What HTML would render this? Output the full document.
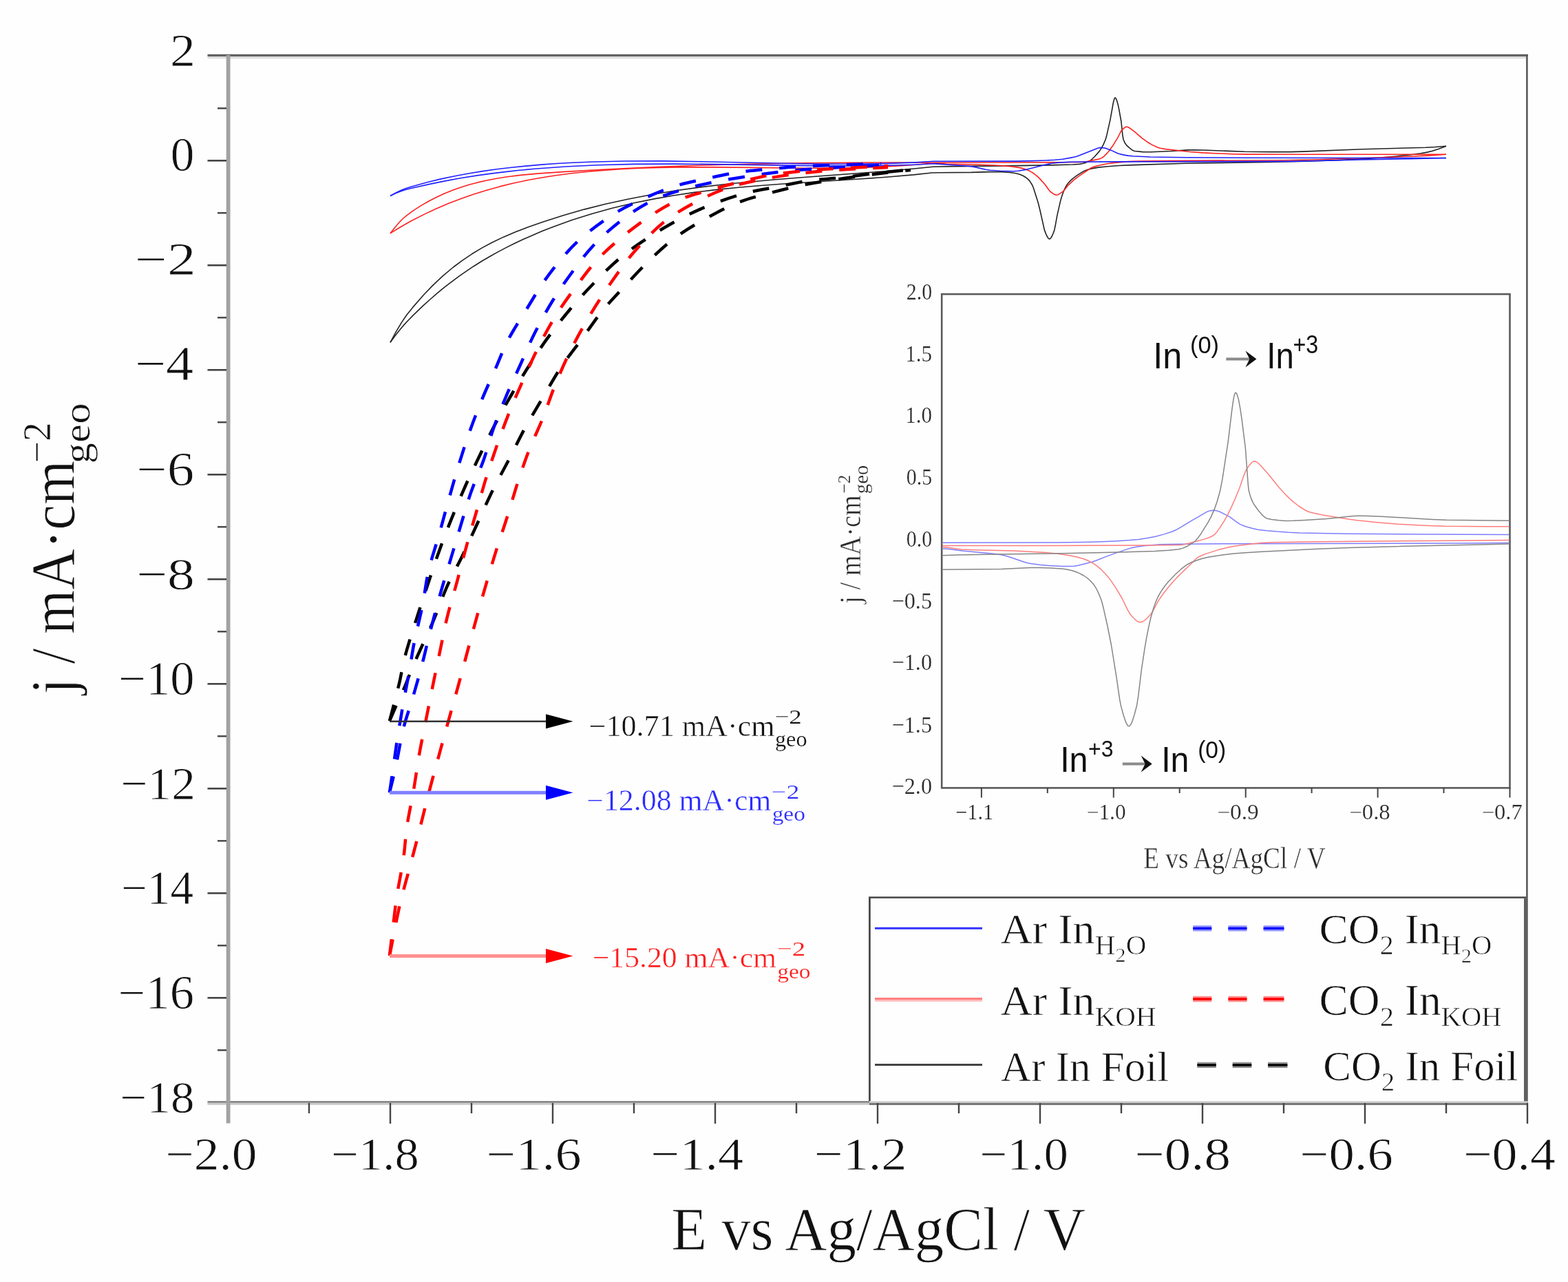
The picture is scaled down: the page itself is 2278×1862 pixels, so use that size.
<!DOCTYPE html><html><head><meta charset="utf-8"><title>CV plot</title><style>html,body{margin:0;padding:0;background:#fff;overflow:hidden}svg{display:block}</style></head><body>
<svg width="2278" height="1862" viewBox="0 0 2278 1862">
<rect width="2278" height="1862" fill="#fefefe"/>
<g fill="none" stroke-linecap="butt">
<line x1="301.5" y1="80.3" x2="2219.7" y2="80.3" stroke="#626262" stroke-width="3.2"/>
<line x1="301.5" y1="83.6" x2="2217" y2="83.6" stroke="#dedede" stroke-width="3.2"/>
<line x1="2218.4" y1="79" x2="2218.4" y2="1605" stroke="#585858" stroke-width="2.6"/>
<line x1="301.5" y1="1600.5" x2="1263" y2="1600.5" stroke="#777" stroke-width="2.6"/>
<line x1="301.5" y1="1603.25" x2="1263" y2="1603.25" stroke="#c8c8c8" stroke-width="2.9"/>
<line x1="1263" y1="1600.6" x2="2219.7" y2="1600.6" stroke="#cccccc" stroke-width="2.8"/>
<line x1="1263" y1="1603.45" x2="2219.7" y2="1603.45" stroke="#777" stroke-width="2.9"/>
<line x1="331.6" y1="80" x2="331.6" y2="1631.5" stroke="#a2a2a2" stroke-width="5.8"/>
<line x1="316" y1="1525.3" x2="329" y2="1525.3" stroke="#444" stroke-width="2.4"/>
<line x1="301.5" y1="1449.3" x2="329" y2="1449.3" stroke="#444" stroke-width="2.6"/>
<line x1="316" y1="1373.3" x2="329" y2="1373.3" stroke="#444" stroke-width="2.4"/>
<line x1="301.5" y1="1297.3" x2="329" y2="1297.3" stroke="#444" stroke-width="2.6"/>
<line x1="316" y1="1221.3" x2="329" y2="1221.3" stroke="#444" stroke-width="2.4"/>
<line x1="301.5" y1="1145.3" x2="329" y2="1145.3" stroke="#444" stroke-width="2.6"/>
<line x1="316" y1="1069.3" x2="329" y2="1069.3" stroke="#444" stroke-width="2.4"/>
<line x1="301.5" y1="993.3" x2="329" y2="993.3" stroke="#444" stroke-width="2.6"/>
<line x1="316" y1="917.3" x2="329" y2="917.3" stroke="#444" stroke-width="2.4"/>
<line x1="301.5" y1="841.3" x2="329" y2="841.3" stroke="#444" stroke-width="2.6"/>
<line x1="316" y1="765.3" x2="329" y2="765.3" stroke="#444" stroke-width="2.4"/>
<line x1="301.5" y1="689.3" x2="329" y2="689.3" stroke="#444" stroke-width="2.6"/>
<line x1="316" y1="613.3" x2="329" y2="613.3" stroke="#444" stroke-width="2.4"/>
<line x1="301.5" y1="537.3" x2="329" y2="537.3" stroke="#444" stroke-width="2.6"/>
<line x1="316" y1="461.3" x2="329" y2="461.3" stroke="#444" stroke-width="2.4"/>
<line x1="301.5" y1="385.3" x2="329" y2="385.3" stroke="#444" stroke-width="2.6"/>
<line x1="316" y1="309.3" x2="329" y2="309.3" stroke="#444" stroke-width="2.4"/>
<line x1="301.5" y1="233.3" x2="329" y2="233.3" stroke="#444" stroke-width="2.6"/>
<line x1="316" y1="157.3" x2="329" y2="157.3" stroke="#444" stroke-width="2.4"/>
<line x1="449.0" y1="1602" x2="449.0" y2="1617" stroke="#444" stroke-width="2.4"/>
<line x1="567.0" y1="1602" x2="567.0" y2="1632" stroke="#444" stroke-width="2.4"/>
<line x1="685.0" y1="1602" x2="685.0" y2="1617" stroke="#444" stroke-width="2.4"/>
<line x1="803.0" y1="1602" x2="803.0" y2="1632" stroke="#444" stroke-width="2.4"/>
<line x1="921.0" y1="1602" x2="921.0" y2="1617" stroke="#444" stroke-width="2.4"/>
<line x1="1039.0" y1="1602" x2="1039.0" y2="1632" stroke="#444" stroke-width="2.4"/>
<line x1="1157.0" y1="1602" x2="1157.0" y2="1617" stroke="#444" stroke-width="2.4"/>
<line x1="1275.0" y1="1602" x2="1275.0" y2="1632" stroke="#444" stroke-width="2.4"/>
<line x1="1393.0" y1="1602" x2="1393.0" y2="1617" stroke="#444" stroke-width="2.4"/>
<line x1="1511.0" y1="1602" x2="1511.0" y2="1632" stroke="#444" stroke-width="2.4"/>
<line x1="1629.0" y1="1602" x2="1629.0" y2="1617" stroke="#444" stroke-width="2.4"/>
<line x1="1747.0" y1="1602" x2="1747.0" y2="1632" stroke="#444" stroke-width="2.4"/>
<line x1="1865.0" y1="1602" x2="1865.0" y2="1617" stroke="#444" stroke-width="2.4"/>
<line x1="1983.0" y1="1602" x2="1983.0" y2="1632" stroke="#444" stroke-width="2.4"/>
<line x1="2101.0" y1="1602" x2="2101.0" y2="1617" stroke="#444" stroke-width="2.4"/>
<line x1="2219.0" y1="1602" x2="2219.0" y2="1632" stroke="#444" stroke-width="2.4"/>
</g>
<rect x="1368.2" y="427.2" width="825.3" height="717.2" fill="none" stroke="#5a5a5a" stroke-width="2.6"/>
<line x1="1425.9" y1="1144" x2="1425.9" y2="1158.5" stroke="#444" stroke-width="2"/>
<line x1="1521.8" y1="1144" x2="1521.8" y2="1152.0" stroke="#444" stroke-width="2"/>
<line x1="1617.8" y1="1144" x2="1617.8" y2="1158.5" stroke="#444" stroke-width="2"/>
<line x1="1713.7" y1="1144" x2="1713.7" y2="1152.0" stroke="#444" stroke-width="2"/>
<line x1="1809.7" y1="1144" x2="1809.7" y2="1158.5" stroke="#444" stroke-width="2"/>
<line x1="1905.6" y1="1144" x2="1905.6" y2="1152.0" stroke="#444" stroke-width="2"/>
<line x1="2001.6" y1="1144" x2="2001.6" y2="1158.5" stroke="#444" stroke-width="2"/>
<line x1="2097.5" y1="1144" x2="2097.5" y2="1152.0" stroke="#444" stroke-width="2"/>
<line x1="2193.5" y1="1144" x2="2193.5" y2="1158.5" stroke="#444" stroke-width="2"/>
<svg x="1369.5" y="428.5" width="822.7" height="714.6" viewBox="1369.5 428.5 822.7 714.6" overflow="hidden">
<polyline fill="none" stroke="#7d7dff" stroke-width="1.5" stroke-linejoin="round" points="1349.1,797.9 1363.3,797.0 1373.7,797.1 1380.6,797.8 1397.9,800.0 1443.1,804.3 1454.5,805.8 1461.1,807.3 1468.4,809.5 1487.7,816.2 1493.2,817.7 1498.4,818.8 1510.5,820.3 1523.3,821.4 1542.7,822.4 1555.1,822.6 1560.6,822.2 1566.5,821.3 1586.2,816.2 1592.8,814.0 1608.3,807.9 1622.8,802.6 1638.4,797.4 1644.9,795.5 1653.2,793.9 1661.9,792.7 1685.4,790.8 1717.9,790.2 1780.7,789.7 2123.2,789.0 2212.7,788.5"/>
<polyline fill="none" stroke="#7d7dff" stroke-width="1.5" stroke-linejoin="round" points="1349.1,789.7 1359.9,788.6 1367.8,788.3 1533.3,787.9 1572.7,787.6 1594.1,787.0 1624.5,785.7 1641.5,784.6 1654.3,783.4 1666.7,781.6 1678.8,779.2 1691.2,775.9 1702.6,772.2 1708.2,769.8 1714.0,766.6 1731.7,755.9 1741.0,750.7 1752.4,743.9 1755.2,742.6 1757.6,741.9 1759.7,741.5 1763.5,741.3 1765.9,741.5 1768.6,742.1 1771.4,743.0 1774.9,744.6 1786.3,750.7 1797.3,758.7 1801.1,761.1 1804.6,762.8 1809.8,764.7 1818.8,767.3 1827.4,769.2 1840.2,770.7 1855.7,772.1 1872.0,773.2 1888.2,773.9 1958.0,775.2 2073.1,776.1 2212.7,776.7"/>
<polyline fill="none" stroke="#ff7d7d" stroke-width="1.5" stroke-linejoin="round" points="1349.1,796.6 1360.5,794.8 1365.4,794.4 1369.5,794.4 1376.1,795.0 1390.6,797.3 1397.2,798.0 1417.2,798.7 1473.2,800.0 1519.2,802.6 1534.7,803.9 1550.6,806.2 1563.7,808.7 1574.4,811.8 1578.9,813.5 1583.4,815.7 1587.9,818.2 1592.8,821.3 1599.0,826.4 1605.9,833.5 1611.1,839.6 1614.2,843.6 1622.5,856.2 1630.1,869.0 1638.4,886.1 1642.2,892.6 1647.0,897.8 1650.8,901.3 1653.9,903.2 1656.7,903.8 1659.5,903.1 1662.6,901.3 1666.0,898.2 1671.5,892.4 1673.3,890.2 1675.0,887.4 1681.6,875.0 1684.0,870.9 1690.2,862.0 1697.1,853.2 1703.7,845.5 1710.2,838.4 1730.3,819.0 1737.9,811.3 1740.0,809.7 1743.4,807.8 1751.7,804.4 1770.0,798.6 1784.5,794.9 1794.9,793.0 1818.4,789.9 1833.6,788.5 1847.8,787.8 1919.3,786.7 2150.8,785.0 2212.7,784.2"/>
<polyline fill="none" stroke="#ff7d7d" stroke-width="1.5" stroke-linejoin="round" points="1349.1,792.6 1490.8,792.6 1671.2,792.0 1714.7,791.4 1720.3,790.7 1726.8,789.3 1749.6,783.1 1756.6,780.7 1760.4,779.0 1763.1,777.4 1765.5,775.2 1768.0,772.4 1772.1,766.6 1779.0,755.9 1783.2,748.3 1788.7,737.1 1793.9,725.5 1800.8,708.7 1807.7,688.8 1810.5,682.4 1814.3,676.8 1817.4,673.0 1819.8,670.9 1821.2,670.2 1822.2,670.0 1823.9,670.3 1825.7,671.1 1827.7,672.5 1830.2,674.8 1842.3,688.2 1858.1,708.0 1869.2,719.9 1876.8,727.2 1886.8,735.0 1894.8,740.2 1901.0,743.2 1908.6,745.3 1921.4,747.9 1953.9,753.3 1969.8,755.6 2000.5,758.8 2030.9,761.3 2068.9,763.2 2099.7,764.2 2157.4,764.7 2212.7,764.8"/>
<polyline fill="none" stroke="#858585" stroke-width="1.5" stroke-linejoin="round" points="1349.1,829.8 1359.5,828.0 1367.8,827.3 1454.9,826.4 1496.7,824.4 1510.2,824.5 1525.4,825.0 1542.3,826.0 1549.9,827.1 1557.5,828.7 1563.0,830.5 1568.6,832.9 1574.4,836.0 1578.9,839.0 1582.4,842.0 1585.8,845.4 1589.0,849.1 1591.4,852.7 1593.8,857.0 1596.6,862.9 1599.7,870.8 1601.1,875.2 1603.5,884.8 1609.0,909.5 1614.5,937.0 1622.1,984.1 1626.6,1015.4 1628.4,1024.9 1632.2,1038.8 1635.3,1048.1 1637.7,1052.9 1639.1,1054.4 1640.1,1054.7 1641.1,1054.3 1642.5,1052.8 1644.9,1047.9 1648.0,1038.3 1651.5,1025.0 1653.6,1011.8 1658.4,972.4 1662.6,944.7 1665.3,928.3 1668.8,910.6 1671.9,897.0 1675.3,885.0 1678.8,874.9 1681.9,867.7 1686.4,859.7 1691.6,852.0 1697.1,845.2 1707.1,834.8 1715.8,826.7 1723.0,821.1 1726.5,819.0 1729.6,817.3 1737.5,814.2 1745.8,811.5 1754.1,809.5 1764.5,807.7 1778.0,805.8 1792.8,804.1 1809.8,802.7 1829.1,801.4 1909.6,797.4 1959.4,795.4 2017.8,793.9 2151.2,791.1 2212.7,789.3"/>
<polyline fill="none" stroke="#858585" stroke-width="1.5" stroke-linejoin="round" points="1349.1,809.2 1358.1,807.7 1365.0,807.0 1391.6,806.1 1433.1,805.2 1544.4,803.8 1627.3,802.1 1678.1,800.4 1697.8,799.3 1712.3,797.8 1715.4,797.1 1718.5,796.1 1725.1,793.2 1731.3,789.5 1736.2,786.0 1740.3,781.4 1744.8,775.2 1755.2,758.4 1759.3,750.9 1764.2,739.9 1768.3,728.2 1772.8,712.0 1775.9,695.9 1784.2,641.6 1789.4,598.2 1791.5,583.0 1792.5,577.1 1793.5,572.9 1794.6,570.6 1795.3,570.3 1796.3,571.1 1797.3,573.1 1799.4,580.4 1801.8,593.3 1804.2,609.7 1809.4,651.0 1813.2,703.0 1813.9,709.8 1814.6,713.7 1816.3,719.9 1818.1,724.9 1820.1,729.6 1822.6,733.8 1828.4,741.7 1832.9,747.1 1836.7,750.7 1839.8,752.7 1841.6,753.3 1847.4,754.4 1858.1,755.8 1867.1,756.4 1878.5,756.3 1895.8,755.5 1927.3,753.5 1966.0,749.6 1973.6,749.3 1981.2,749.2 2003.3,749.9 2081.0,754.5 2101.1,755.3 2170.9,756.1 2196.4,756.2 2212.7,755.9"/>
</svg>
<line x1="1781.3" y1="521.4" x2="1817.4" y2="521.4" stroke="#8a8a8a" stroke-width="4"/>
<path d="M1825.4,521.4 L1809.4,509.4 L1815.4,521.4 L1809.4,533.4 Z" fill="#111"/>
<line x1="1630.8" y1="1109.4" x2="1665.7" y2="1109.4" stroke="#8a8a8a" stroke-width="4"/>
<path d="M1673.7,1109.4 L1657.7,1097.4 L1663.7,1109.4 L1657.7,1121.4 Z" fill="#111"/>
<g fill="none" stroke-linejoin="round" stroke-width="1.6">
<polyline stroke="#222" points="567.0,497.4 573.6,488.3 580.3,479.7 586.4,472.4 592.6,465.7 600.8,457.4 615.1,443.7 625.3,434.5 635.5,425.6 645.8,417.2 656.0,409.3 666.7,401.3 677.5,393.8 688.2,386.7 700.0,379.3 711.2,372.7 723.0,366.1 735.3,359.6 747.6,353.5 760.3,347.5 774.2,341.4 788.0,335.6 802.3,330.0 830.4,319.8 859.1,310.7 888.7,302.5 919.9,295.0 951.7,288.6 979.8,283.7 1008.9,279.4 1039.6,275.6 1072.9,272.2 1102.0,269.7 1135.3,267.2 1244.2,260.3 1284.1,257.5 1327.1,253.9 1353.7,251.0 1365.5,250.7 1411.0,250.4 1437.6,249.6 1455.0,249.8 1466.7,250.4 1472.9,251.2 1477.0,252.0 1482.1,253.6 1486.7,255.5 1490.3,257.7 1493.8,260.6 1495.9,262.9 1498.4,266.7 1500.0,269.5 1501.5,273.2 1508.2,294.2 1511.2,306.5 1517.4,334.1 1519.4,339.4 1521.5,343.8 1523.0,346.1 1524.5,347.1 1525.0,347.0 1526.1,346.4 1527.6,344.3 1529.7,340.0 1531.7,334.6 1533.2,327.6 1535.8,313.1 1540.4,292.9 1542.4,285.8 1544.5,279.7 1547.0,273.8 1549.1,269.9 1551.6,266.3 1555.7,261.9 1559.8,258.3 1566.0,253.9 1571.6,250.3 1576.2,247.9 1579.8,246.6 1585.9,244.9 1595.6,243.1 1609.4,241.7 1625.8,240.5 1647.3,239.6 1722.0,237.3 1843.2,235.4 1888.2,234.4 1944.0,232.6 1986.9,230.4 2006.4,229.0 2027.9,227.0 2049.8,224.7 2064.2,222.7 2073.4,221.1 2081.1,219.2 2090.3,216.2 2101.0,212.2"/>
<polyline stroke="#222" points="567.0,497.4 575.2,482.1 583.4,468.4 591.0,457.3 599.7,446.4 615.1,428.8 628.4,414.9 643.2,400.9 658.6,388.0 671.9,378.1 685.7,368.8 700.5,359.9 715.3,352.0 731.2,344.4 748.6,337.0 767.5,329.7 789.0,322.2 818.7,312.7 848.8,304.1 880.0,296.2 912.3,289.2 946.0,282.7 980.8,277.0 1017.6,271.9 1056.5,267.3 1087.7,264.2 1121.5,261.2 1161.4,258.0 1286.2,248.7 1328.1,245.0 1355.2,242.2 1385.9,241.6 1459.6,240.9 1526.6,239.9 1558.3,239.0 1568.0,238.4 1572.1,237.8 1576.7,236.4 1581.8,234.3 1584.4,232.9 1586.9,230.8 1590.5,227.2 1597.2,219.6 1600.2,215.1 1602.8,210.4 1605.9,203.2 1607.9,196.4 1613.0,173.6 1617.6,148.0 1619.2,142.8 1619.7,142.1 1620.2,142.0 1621.2,142.9 1622.7,146.5 1624.3,152.2 1625.8,159.5 1628.9,176.5 1630.9,196.1 1632.0,202.5 1634.5,208.1 1637.1,211.4 1641.2,215.1 1644.2,217.5 1646.8,218.9 1648.8,219.5 1660.1,220.6 1672.4,220.7 1701.5,219.5 1725.0,217.9 1734.3,217.7 1748.1,218.0 1807.9,220.3 1846.8,220.6 1873.9,220.6 1892.8,220.1 1978.2,216.8 2071.3,214.2 2085.1,213.5 2101.0,212.2"/>
<polyline stroke="#ff2020" points="567.0,338.9 581.8,329.7 596.7,321.3 615.6,311.6 633.5,303.2 651.4,295.6 669.3,288.7 687.7,282.2 707.2,276.2 726.1,270.9 746.0,266.0 766.0,261.8 786.9,258.0 807.9,254.7 830.4,251.8 854.5,249.2 879.5,247.1 904.6,245.5 930.2,244.3 958.8,243.4 988.5,242.9 1042.2,242.9 1171.6,244.3 1205.4,244.2 1240.1,243.7 1271.9,242.8 1302.0,241.3 1331.2,239.3 1351.1,237.2 1356.8,236.8 1361.9,237.1 1375.2,238.4 1422.7,239.2 1453.9,240.5 1468.3,241.7 1480.5,243.4 1485.1,244.4 1488.7,245.5 1496.4,248.6 1499.5,250.4 1503.1,253.0 1507.1,256.2 1510.2,259.1 1518.4,268.2 1523.5,275.5 1526.1,278.5 1531.2,282.1 1533.2,282.9 1534.8,283.2 1536.3,283.0 1538.3,282.2 1544.0,278.4 1546.0,276.4 1551.6,269.3 1559.8,261.7 1568.0,255.4 1584.9,244.0 1589.5,242.1 1596.7,240.3 1608.9,237.8 1619.2,236.4 1639.1,234.6 1655.0,234.0 1700.0,233.6 1865.2,232.7 1915.3,231.7 2045.8,227.3 2072.9,226.1 2101.0,224.3"/>
<polyline stroke="#ff2020" points="567.0,338.9 573.6,330.4 579.8,323.2 585.4,317.5 591.6,312.3 599.7,306.3 612.5,298.1 622.8,292.2 633.5,286.7 644.7,281.5 657.0,276.5 668.3,272.5 681.6,268.3 694.4,264.9 707.2,262.0 721.5,259.2 735.3,257.0 756.3,254.4 780.8,252.1 817.1,249.6 866.2,246.7 915.3,244.2 964.9,242.1 1015.6,240.2 1067.3,238.7 1147.0,237.1 1229.4,236.2 1287.7,236.0 1357.3,236.2 1483.6,236.0 1545.5,235.8 1572.6,235.4 1578.2,234.7 1595.1,231.4 1599.7,229.9 1602.8,228.0 1605.4,225.6 1610.0,220.8 1616.1,212.6 1623.8,200.1 1627.9,192.0 1629.4,189.5 1633.5,185.6 1635.0,184.6 1636.6,184.2 1637.6,184.3 1639.1,184.8 1641.7,186.3 1648.8,191.7 1658.5,200.1 1667.8,206.8 1672.9,209.9 1681.6,214.0 1685.7,215.3 1693.3,216.6 1728.6,220.5 1747.6,221.9 1765.5,222.8 1790.5,223.7 1810.5,224.1 1860.6,224.3 1983.4,224.2 2101.0,224.3"/>
<polyline stroke="#2020ff" points="567.0,284.5 574.7,280.8 581.8,277.9 588.5,275.7 596.2,273.7 623.3,267.6 645.3,263.1 668.8,258.8 693.3,254.9 713.3,252.1 733.8,249.6 754.7,247.3 776.2,245.3 821.2,242.0 868.3,239.8 922.5,238.4 980.3,238.1 1038.1,238.6 1172.6,240.6 1240.7,240.9 1271.9,240.6 1301.5,240.0 1328.1,239.2 1351.6,238.0 1358.3,237.9 1399.7,240.7 1411.0,241.7 1417.6,242.9 1432.0,246.3 1438.6,247.3 1453.4,248.3 1472.4,248.8 1479.5,248.2 1491.8,246.1 1513.8,240.4 1527.6,237.3 1538.3,236.1 1553.7,235.3 1614.0,234.9 1875.9,234.4 1906.1,233.8 1976.7,231.9 2047.8,230.7 2101.0,229.5"/>
<polyline stroke="#2020ff" points="567.0,284.5 575.2,279.9 582.9,276.3 590.0,273.5 598.2,270.9 620.7,264.8 639.6,260.1 660.6,255.7 682.1,251.7 701.5,248.6 721.5,245.8 743.0,243.3 764.4,241.1 786.4,239.1 808.9,237.5 832.0,236.2 856.5,235.2 906.6,234.0 962.4,233.9 1019.7,234.7 1162.9,237.8 1204.3,238.3 1236.0,238.3 1267.8,237.9 1300.0,237.1 1330.2,235.9 1356.3,234.3 1475.9,234.1 1500.5,233.6 1519.4,233.0 1532.7,232.3 1543.5,231.2 1554.2,229.4 1562.4,227.7 1567.5,226.1 1594.1,215.4 1597.2,214.6 1600.7,214.4 1603.8,214.7 1606.9,215.6 1614.6,218.4 1624.3,223.0 1633.0,225.1 1639.1,226.1 1645.8,226.7 1671.3,228.0 1723.5,228.7 1813.0,229.2 2101.0,229.5"/>
</g>
<g fill="none" stroke-width="4.5" stroke-dasharray="24 25" stroke-linecap="butt">
<path stroke="#000" d="M566.0,1047.0 C567.2,1042.5 570.6,1029.5 573.0,1020.0 C575.4,1010.5 578.0,1001.2 580.6,990.0 C583.2,978.8 584.7,967.2 588.5,953.0 C592.3,938.8 598.0,921.0 603.2,904.6 C608.4,888.2 614.1,870.9 619.6,854.5 C625.1,838.1 630.2,822.1 636.0,806.0 C641.8,789.9 647.5,774.5 654.2,757.8 C660.9,741.1 669.0,721.7 676.0,706.0 C683.0,690.3 688.9,678.2 696.0,663.5 C703.1,648.8 710.4,633.1 718.5,617.7 C726.6,602.3 736.0,585.4 744.4,571.0 C752.8,556.6 760.2,544.4 768.6,531.3 C777.0,518.2 784.6,506.1 794.5,492.4 C804.4,478.7 816.7,462.9 828.2,449.2 C839.7,435.5 851.6,422.8 863.6,410.4 C875.6,398.0 887.5,385.9 900.5,375.0 C913.5,364.1 927.5,354.6 941.7,345.3 C956.0,336.0 970.9,326.9 986.0,319.0 C1001.1,311.1 1016.3,303.9 1032.3,297.6 C1048.3,291.3 1066.3,285.3 1081.8,281.0 C1097.2,276.7 1109.5,275.1 1125.0,272.0 C1140.5,268.9 1158.2,264.9 1175.0,262.5 C1191.8,260.1 1208.8,259.4 1226.0,257.5 C1243.2,255.6 1261.8,252.8 1278.0,251.0 C1294.2,249.2 1315.5,247.2 1323.0,246.5"/>
<path stroke="#000" d="M566.0,1047.0 C567.7,1043.2 572.5,1031.8 576.0,1024.0 C579.5,1016.2 583.5,1008.2 587.0,1000.0 C590.5,991.8 593.6,983.2 597.0,975.0 C600.4,966.8 601.9,963.0 607.3,951.0 C612.6,939.0 622.1,919.3 629.1,902.9 C636.1,886.5 642.0,868.6 649.0,852.8 C656.0,837.0 663.9,823.4 671.4,807.9 C678.9,792.4 686.5,775.4 693.9,759.5 C701.2,743.6 708.0,728.1 715.5,712.8 C723.0,697.5 731.4,682.9 739.2,667.8 C747.1,652.7 754.2,637.2 762.6,622.0 C771.0,606.8 780.5,591.1 789.3,576.3 C798.1,561.5 806.1,546.8 815.3,533.0 C824.5,519.2 834.7,506.8 844.6,493.3 C854.5,479.8 864.5,464.6 874.9,451.8 C885.3,439.0 895.1,428.9 906.8,416.4 C918.5,403.9 932.3,388.7 945.0,376.6 C957.7,364.5 969.5,353.6 983.0,343.7 C996.5,333.8 1010.9,325.5 1025.7,317.3 C1040.5,309.1 1056.3,300.5 1072.0,294.3 C1087.7,288.1 1103.7,284.4 1120.0,280.0 C1136.3,275.6 1152.3,271.5 1170.0,268.0 C1187.7,264.5 1208.0,261.7 1226.0,259.0 C1244.0,256.3 1261.8,254.0 1278.0,252.0 C1294.2,250.0 1315.5,247.8 1323.0,247.0"/>
<path stroke="#0000ff" d="M566.0,1151.0 C567.0,1144.2 570.2,1122.7 572.0,1110.0 C573.8,1097.3 574.9,1088.6 577.0,1075.0 C579.1,1061.4 581.8,1045.2 584.7,1028.5 C587.6,1011.8 591.7,991.3 594.6,975.0 C597.5,958.7 599.1,946.3 602.3,930.5 C605.5,914.7 610.2,897.4 613.6,880.4 C617.0,863.4 618.7,845.9 622.7,828.6 C626.7,811.3 633.0,793.8 637.8,776.8 C642.6,759.8 646.9,743.3 651.6,726.7 C656.3,710.1 660.7,693.9 665.8,677.3 C670.9,660.7 676.4,643.5 682.2,627.2 C688.0,610.9 694.2,594.8 700.4,579.7 C706.6,564.6 713.1,550.9 719.4,536.5 C725.7,522.1 730.6,508.1 738.4,493.3 C746.2,478.5 757.2,461.8 766.0,447.5 C774.8,433.2 781.8,420.9 791.0,407.8 C800.2,394.8 811.2,380.6 821.4,369.2 C831.5,357.8 840.0,349.5 851.9,339.6 C863.8,329.7 879.7,318.3 893.0,310.0 C906.3,301.7 917.6,296.5 931.8,290.0 C946.0,283.5 962.5,276.2 978.0,271.2 C993.5,266.1 1009.7,263.1 1025.0,259.7 C1040.3,256.3 1056.4,252.8 1070.0,250.6 C1083.6,248.4 1091.5,247.9 1106.5,246.5 C1121.5,245.1 1141.1,243.2 1160.0,242.0 C1178.9,240.8 1200.0,240.2 1220.0,239.5 C1240.0,238.8 1270.0,238.2 1280.0,238.0"/>
<path stroke="#0000ff" d="M566.0,1151.0 C567.5,1144.6 571.9,1127.9 575.2,1112.4 C578.5,1097.0 581.9,1074.8 586.0,1058.3 C590.1,1041.8 595.0,1029.4 599.6,1013.6 C604.2,997.8 609.5,978.8 613.6,963.4 C617.7,948.0 619.7,937.7 624.0,921.0 C628.3,904.3 634.5,881.1 639.5,863.2 C644.5,845.4 649.3,830.3 654.2,813.9 C659.1,797.5 663.9,781.2 668.9,764.7 C673.9,748.2 678.7,730.9 684.4,714.6 C690.1,698.3 697.6,682.4 703.0,667.0 C708.4,651.6 711.7,637.1 717.0,622.0 C722.3,606.9 728.6,591.5 735.0,576.3 C741.4,561.0 748.6,546.0 755.6,530.5 C762.6,515.0 769.3,498.7 777.2,483.0 C785.1,467.3 794.4,450.6 803.2,436.3 C812.0,422.0 820.1,410.4 830.0,397.0 C839.9,383.6 850.6,368.7 862.6,356.0 C874.6,343.3 888.3,331.2 902.0,320.6 C915.7,310.0 930.3,300.0 945.0,292.6 C959.7,285.2 974.2,280.8 990.0,276.0 C1005.8,271.2 1021.7,267.7 1040.0,264.0 C1058.3,260.3 1080.0,256.8 1100.0,254.0 C1120.0,251.2 1140.0,248.8 1160.0,247.0 C1180.0,245.2 1200.0,244.2 1220.0,243.0 C1240.0,241.8 1270.0,240.5 1280.0,240.0"/>
<path stroke="#ff0000" d="M566.0,1388.0 C566.6,1382.7 568.0,1370.3 569.8,1356.0 C571.5,1341.7 573.8,1320.0 576.5,1302.0 C579.2,1284.0 583.5,1265.0 586.0,1247.8 C588.5,1230.6 588.9,1215.7 591.4,1199.0 C593.9,1182.3 598.0,1164.7 600.9,1147.6 C603.8,1130.5 606.0,1113.3 609.0,1096.2 C612.0,1079.1 615.6,1062.2 619.0,1045.0 C622.4,1027.8 625.9,1010.1 629.3,993.3 C632.7,976.5 636.1,960.6 639.5,944.4 C642.9,928.2 645.8,912.4 649.8,896.0 C653.8,879.6 658.9,863.5 663.7,845.9 C668.5,828.3 673.6,807.8 678.4,790.6 C683.1,773.5 687.5,759.4 692.2,743.0 C697.0,726.6 701.6,708.9 706.9,692.1 C712.1,675.3 718.0,658.0 723.7,642.0 C729.4,626.0 734.8,611.4 741.0,596.1 C747.2,580.8 753.8,566.0 760.8,550.3 C767.8,534.6 775.4,517.5 783.3,502.0 C791.2,486.4 799.2,471.7 808.4,457.0 C817.6,442.3 828.7,427.1 838.6,413.8 C848.5,400.6 857.3,388.6 867.6,377.5 C877.9,366.4 888.1,357.3 900.5,347.0 C912.9,336.7 927.7,325.0 941.7,315.7 C955.7,306.4 969.0,297.8 984.5,291.0 C1000.0,284.2 1019.1,279.7 1035.0,275.0 C1050.9,270.3 1065.7,266.5 1080.0,263.0 C1094.3,259.5 1106.0,256.5 1121.0,254.0 C1136.0,251.5 1153.5,249.6 1170.0,248.0 C1186.5,246.4 1200.0,245.7 1220.0,244.5 C1240.0,243.3 1278.3,241.6 1290.0,241.0"/>
<path stroke="#ff0000" d="M566.0,1388.0 C568.4,1375.9 575.9,1336.2 580.6,1315.5 C585.3,1294.8 589.8,1280.2 594.1,1264.0 C598.4,1247.8 601.5,1236.5 606.3,1218.0 C611.0,1199.5 617.0,1174.7 622.6,1153.0 C628.2,1131.3 635.0,1107.2 640.2,1088.0 C645.4,1068.8 649.5,1054.2 654.0,1038.0 C658.5,1021.8 662.7,1007.1 667.2,990.6 C671.7,974.1 676.7,955.1 681.0,939.2 C685.3,923.3 688.8,910.1 693.0,895.1 C697.2,880.1 701.4,865.1 706.0,849.3 C710.6,833.5 715.5,816.6 720.7,800.1 C725.9,783.6 731.8,766.9 737.1,750.0 C742.4,733.1 747.5,715.0 752.7,699.0 C758.0,683.0 762.5,669.6 768.6,654.0 C774.7,638.4 783.0,621.4 789.3,605.6 C795.6,589.8 800.0,575.1 806.6,559.0 C813.2,542.9 820.5,525.9 829.0,508.9 C837.5,491.9 847.5,473.9 857.6,457.0 C867.7,440.1 878.9,423.1 889.6,407.8 C900.3,392.5 909.5,379.2 922.0,365.0 C934.5,350.8 949.5,334.5 964.8,322.3 C980.1,310.1 998.1,300.2 1014.0,291.8 C1029.9,283.4 1044.0,277.3 1060.0,272.0 C1076.0,266.7 1091.7,263.5 1110.0,260.0 C1128.3,256.5 1150.0,253.3 1170.0,251.0 C1190.0,248.7 1210.0,247.3 1230.0,246.0 C1250.0,244.7 1280.0,243.5 1290.0,243.0"/>
</g>
<line x1="566" y1="1047.7" x2="795" y2="1047.7" stroke="#333" stroke-width="2.4"/>
<path d="M793,1037.2 L832.5,1047.7 L793,1058.2 Z" fill="#000"/>
<line x1="566" y1="1151.2" x2="795" y2="1151.2" stroke="#8080ff" stroke-width="5.0"/>
<path d="M793,1140.7 L832.5,1151.2 L793,1161.7 Z" fill="#0000ff"/>
<line x1="566" y1="1388.5" x2="795" y2="1388.5" stroke="#ff9090" stroke-width="5.0"/>
<path d="M793,1378.0 L832.5,1388.5 L793,1399.0 Z" fill="#ff0000"/>
<rect x="1263.4" y="1303.5" width="952" height="295.7" fill="#fefefe"/>
<path d="M1263.4,1599.2 V1303.5 H2217" fill="none" stroke="#444" stroke-width="2.7"/>
<line x1="2215.5" y1="1304.8" x2="2215.5" y2="1599.2" stroke="#5e5e5e" stroke-width="3"/>
<line x1="1271" y1="1348.3" x2="1427" y2="1348.3" stroke="#3333ff" stroke-width="3"/>
<line x1="1271" y1="1450.6" x2="1427" y2="1450.6" stroke="#ff8080" stroke-width="3"/><line x1="1271" y1="1453.4" x2="1427" y2="1453.4" stroke="#ffbcbc" stroke-width="2.6"/>
<line x1="1271" y1="1546.6" x2="1427" y2="1546.6" stroke="#444" stroke-width="3"/>
<path d="M1733.2,1348.4 H1760.3 M1784.4,1348.4 H1811.5 M1835.6,1348.4 H1865.4" stroke="#9090ff" stroke-width="8.4" fill="none"/>
<path d="M1733.2,1348.4 H1760.3 M1784.4,1348.4 H1811.5 M1835.6,1348.4 H1865.4" stroke="#0000ff" stroke-width="3.4" fill="none"/>
<path d="M1733.2,1451.0 H1760.3 M1784.4,1451.0 H1811.5 M1835.6,1451.0 H1865.4" stroke="#ff9090" stroke-width="8.4" fill="none"/>
<path d="M1733.2,1451.0 H1760.3 M1784.4,1451.0 H1811.5 M1835.6,1451.0 H1865.4" stroke="#ff0000" stroke-width="3.4" fill="none"/>
<path d="M1739.3,1546.9 H1766.8 M1790.7,1546.9 H1818.3 M1842.1,1546.9 H1870.4" stroke="#909090" stroke-width="8.4" fill="none"/>
<path d="M1739.3,1546.9 H1766.8 M1790.7,1546.9 H1818.3 M1842.1,1546.9 H1870.4" stroke="#000000" stroke-width="3.4" fill="none"/>
<g transform="matrix(0.73902,0.00000,0.00000,0.67015,247.04,95.83)" font-family="'Liberation Serif', 'DejaVu Serif', serif" fill="#111" stroke="#fefefe" stroke-width="1.15"><text x="0" y="0" font-size="100">2</text></g>
<g transform="matrix(0.69286,0.00000,0.00000,0.69853,247.63,248.20)" font-family="'Liberation Serif', 'DejaVu Serif', serif" fill="#111" stroke="#fefefe" stroke-width="1.15"><text x="0" y="0" font-size="100">0</text></g>
<g transform="matrix(0.83437,0.00000,0.00000,0.67015,195.93,399.43)" font-family="'Liberation Serif', 'DejaVu Serif', serif" fill="#111" stroke="#fefefe" stroke-width="1.15"><text x="0" y="0" font-size="100">−2</text></g>
<g transform="matrix(0.80400,0.00000,0.00000,0.71212,195.78,552.09)" font-family="'Liberation Serif', 'DejaVu Serif', serif" fill="#111" stroke="#fefefe" stroke-width="1.15"><text x="0" y="0" font-size="100">−4</text></g>
<g transform="matrix(0.78788,0.00000,0.00000,0.70000,198.26,704.90)" font-family="'Liberation Serif', 'DejaVu Serif', serif" fill="#111" stroke="#fefefe" stroke-width="1.15"><text x="0" y="0" font-size="100">−6</text></g>
<g transform="matrix(0.79592,0.00000,0.00000,0.66176,198.22,855.68)" font-family="'Liberation Serif', 'DejaVu Serif', serif" fill="#111" stroke="#fefefe" stroke-width="1.15"><text x="0" y="0" font-size="100">−8</text></g>
<g transform="matrix(0.70608,0.00000,0.00000,0.69853,172.07,1008.60)" font-family="'Liberation Serif', 'DejaVu Serif', serif" fill="#111" stroke="#fefefe" stroke-width="1.15"><text x="0" y="0" font-size="100">−10</text></g>
<g transform="matrix(0.69247,0.00000,0.00000,0.68358,175.54,1160.52)" font-family="'Liberation Serif', 'DejaVu Serif', serif" fill="#111" stroke="#fefefe" stroke-width="1.15"><text x="0" y="0" font-size="100">−12</text></g>
<g transform="matrix(0.67267,0.00000,0.00000,0.70000,175.94,1312.50)" font-family="'Liberation Serif', 'DejaVu Serif', serif" fill="#111" stroke="#fefefe" stroke-width="1.15"><text x="0" y="0" font-size="100">−14</text></g>
<g transform="matrix(0.70470,0.00000,0.00000,0.68971,171.68,1465.22)" font-family="'Liberation Serif', 'DejaVu Serif', serif" fill="#111" stroke="#fefefe" stroke-width="1.15"><text x="0" y="0" font-size="100">−16</text></g>
<g transform="matrix(0.69054,0.00000,0.00000,0.65441,174.55,1616.19)" font-family="'Liberation Serif', 'DejaVu Serif', serif" fill="#111" stroke="#fefefe" stroke-width="1.15"><text x="0" y="0" font-size="100">−18</text></g>
<g transform="matrix(0.73410,0.00000,0.00000,0.67647,240.33,1698.65)" font-family="'Liberation Serif', 'DejaVu Serif', serif" fill="#111" stroke="#fefefe" stroke-width="1.15"><text x="0" y="0" font-size="100">−2.0</text></g>
<g transform="matrix(0.70520,0.00000,0.00000,0.67647,480.97,1698.65)" font-family="'Liberation Serif', 'DejaVu Serif', serif" fill="#111" stroke="#fefefe" stroke-width="1.15"><text x="0" y="0" font-size="100">−1.8</text></g>
<g transform="matrix(0.76207,0.00000,0.00000,0.67647,706.29,1698.65)" font-family="'Liberation Serif', 'DejaVu Serif', serif" fill="#111" stroke="#fefefe" stroke-width="1.15"><text x="0" y="0" font-size="100">−1.6</text></g>
<g transform="matrix(0.74229,0.00000,0.00000,0.68657,945.59,1699.31)" font-family="'Liberation Serif', 'DejaVu Serif', serif" fill="#111" stroke="#fefefe" stroke-width="1.15"><text x="0" y="0" font-size="100">−1.4</text></g>
<g transform="matrix(0.74211,0.00000,0.00000,0.68657,1182.89,1699.31)" font-family="'Liberation Serif', 'DejaVu Serif', serif" fill="#111" stroke="#fefefe" stroke-width="1.15"><text x="0" y="0" font-size="100">−1.2</text></g>
<g transform="matrix(0.70925,0.00000,0.00000,0.67647,1423.35,1698.65)" font-family="'Liberation Serif', 'DejaVu Serif', serif" fill="#111" stroke="#fefefe" stroke-width="1.15"><text x="0" y="0" font-size="100">−1.0</text></g>
<g transform="matrix(0.76936,0.00000,0.00000,0.67647,1648.35,1698.65)" font-family="'Liberation Serif', 'DejaVu Serif', serif" fill="#111" stroke="#fefefe" stroke-width="1.15"><text x="0" y="0" font-size="100">−0.8</text></g>
<g transform="matrix(0.74770,0.00000,0.00000,0.67647,1888.26,1698.65)" font-family="'Liberation Serif', 'DejaVu Serif', serif" fill="#111" stroke="#fefefe" stroke-width="1.15"><text x="0" y="0" font-size="100">−0.6</text></g>
<g transform="matrix(0.73943,0.00000,0.00000,0.67647,2125.90,1698.65)" font-family="'Liberation Serif', 'DejaVu Serif', serif" fill="#111" stroke="#fefefe" stroke-width="1.15"><text x="0" y="0" font-size="100">−0.4</text></g>
<g transform="matrix(0.84865,0.00000,0.00000,0.89444,975.15,1814.72)" font-family="'Liberation Serif', 'DejaVu Serif', serif" fill="#111" stroke="#fefefe" stroke-width="1.03"><text x="0" y="0" font-size="100">E vs Ag/AgCl / V</text></g>
<g transform="matrix(0.00000,-0.82615,0.91034,0.00000,107.58,1008.22)" font-family="'Liberation Serif', 'DejaVu Serif', serif" fill="#111" stroke="#fefefe" stroke-width="1.04"><text x="0" y="0" font-size="100">j / mA·cm</text></g>
<g transform="matrix(0.00000,-0.55521,0.58060,0.00000,72.82,672.28)" font-family="'Liberation Serif', 'DejaVu Serif', serif" fill="#111" stroke="#fefefe" stroke-width="1.15"><text x="0" y="0" font-size="100">−2</text></g>
<g transform="matrix(0.00000,-0.61022,0.55205,0.00000,129.51,673.44)" font-family="'Liberation Serif', 'DejaVu Serif', serif" fill="#111" stroke="#fefefe" stroke-width="1.15"><text x="0" y="0" font-size="100">geo</text></g>
<g transform="matrix(0.29915,0.00000,0.00000,0.33676,1316.80,434.93)" font-family="'Liberation Serif', 'DejaVu Serif', serif" fill="#2a2a2a" stroke="#fefefe" stroke-width="0.69"><text x="0" y="0" font-size="100">2.0</text></g>
<g transform="matrix(0.31250,0.00000,0.00000,0.34179,1315.19,525.01)" font-family="'Liberation Serif', 'DejaVu Serif', serif" fill="#2a2a2a" stroke="#fefefe" stroke-width="0.69"><text x="0" y="0" font-size="100">1.5</text></g>
<g transform="matrix(0.31250,0.00000,0.00000,0.33676,1315.19,614.43)" font-family="'Liberation Serif', 'DejaVu Serif', serif" fill="#2a2a2a" stroke="#fefefe" stroke-width="0.69"><text x="0" y="0" font-size="100">1.0</text></g>
<g transform="matrix(0.29915,0.00000,0.00000,0.33676,1316.80,704.18)" font-family="'Liberation Serif', 'DejaVu Serif', serif" fill="#2a2a2a" stroke="#fefefe" stroke-width="0.69"><text x="0" y="0" font-size="100">0.5</text></g>
<g transform="matrix(0.29915,0.00000,0.00000,0.33676,1316.80,793.93)" font-family="'Liberation Serif', 'DejaVu Serif', serif" fill="#2a2a2a" stroke="#fefefe" stroke-width="0.69"><text x="0" y="0" font-size="100">0.0</text></g>
<g transform="matrix(0.32370,0.00000,0.00000,0.33676,1295.38,883.68)" font-family="'Liberation Serif', 'DejaVu Serif', serif" fill="#2a2a2a" stroke="#fefefe" stroke-width="0.69"><text x="0" y="0" font-size="100">−0.5</text></g>
<g transform="matrix(0.32370,0.00000,0.00000,0.33676,1295.38,973.43)" font-family="'Liberation Serif', 'DejaVu Serif', serif" fill="#2a2a2a" stroke="#fefefe" stroke-width="0.69"><text x="0" y="0" font-size="100">−1.0</text></g>
<g transform="matrix(0.32370,0.00000,0.00000,0.34179,1295.38,1063.51)" font-family="'Liberation Serif', 'DejaVu Serif', serif" fill="#2a2a2a" stroke="#fefefe" stroke-width="0.69"><text x="0" y="0" font-size="100">−1.5</text></g>
<g transform="matrix(0.32370,0.00000,0.00000,0.33676,1295.38,1152.93)" font-family="'Liberation Serif', 'DejaVu Serif', serif" fill="#2a2a2a" stroke="#fefefe" stroke-width="0.69"><text x="0" y="0" font-size="100">−2.0</text></g>
<g transform="matrix(0.30409,0.00000,0.00000,0.31045,1388.18,1189.99)" font-family="'Liberation Serif', 'DejaVu Serif', serif" fill="#2a2a2a" stroke="#fefefe" stroke-width="0.69"><text x="0" y="0" font-size="100">−1.1</text></g>
<g transform="matrix(0.31329,0.00000,0.00000,0.30588,1578.73,1189.69)" font-family="'Liberation Serif', 'DejaVu Serif', serif" fill="#2a2a2a" stroke="#fefefe" stroke-width="0.69"><text x="0" y="0" font-size="100">−1.0</text></g>
<g transform="matrix(0.33372,0.00000,0.00000,0.30588,1768.23,1189.69)" font-family="'Liberation Serif', 'DejaVu Serif', serif" fill="#2a2a2a" stroke="#fefefe" stroke-width="0.69"><text x="0" y="0" font-size="100">−0.9</text></g>
<g transform="matrix(0.32717,0.00000,0.00000,0.30588,1960.36,1189.69)" font-family="'Liberation Serif', 'DejaVu Serif', serif" fill="#2a2a2a" stroke="#fefefe" stroke-width="0.69"><text x="0" y="0" font-size="100">−0.8</text></g>
<g transform="matrix(0.32586,0.00000,0.00000,0.30588,2152.67,1189.69)" font-family="'Liberation Serif', 'DejaVu Serif', serif" fill="#2a2a2a" stroke="#fefefe" stroke-width="0.69"><text x="0" y="0" font-size="100">−0.7</text></g>
<g transform="matrix(0.37277,0.00000,0.00000,0.44000,1661.18,1261.26)" font-family="'Liberation Serif', 'DejaVu Serif', serif" fill="#2a2a2a" stroke="#fefefe" stroke-width="1.15"><text x="0" y="0" font-size="100">E vs Ag/AgCl / V</text></g>
<g transform="matrix(0.00000,-0.38354,0.45287,0.00000,1250.29,876.75)" font-family="'Liberation Serif', 'DejaVu Serif', serif" fill="#2a2a2a" stroke="#fefefe" stroke-width="1.15"><text x="0" y="0" font-size="100">j / mA·cm</text></g>
<g transform="matrix(0.00000,-0.25208,0.25821,0.00000,1234.64,716.56)" font-family="'Liberation Serif', 'DejaVu Serif', serif" fill="#2a2a2a" stroke="#fefefe" stroke-width="0.69"><text x="0" y="0" font-size="100">−2</text></g>
<g transform="matrix(0.00000,-0.28759,0.29315,0.00000,1260.54,717.15)" font-family="'Liberation Serif', 'DejaVu Serif', serif" fill="#2a2a2a" stroke="#fefefe" stroke-width="0.69"><text x="0" y="0" font-size="100">geo</text></g>
<g transform="matrix(0.44116,0.00000,0.00000,0.43382,855.59,1068.83)" font-family="'Liberation Serif', 'DejaVu Serif', serif" fill="#111" stroke="#fefefe" stroke-width="1.15"><text x="0" y="0" font-size="100">−10.71 mA·cm</text></g>
<g transform="matrix(0.37083,0.00000,0.00000,0.30299,1125.45,1051.20)" font-family="'Liberation Serif', 'DejaVu Serif', serif" fill="#111" stroke="#fefefe" stroke-width="0.69"><text x="0" y="0" font-size="100">−2</text></g>
<g transform="matrix(0.32190,0.00000,0.00000,0.31370,1126.01,1083.91)" font-family="'Liberation Serif', 'DejaVu Serif', serif" fill="#111" stroke="#fefefe" stroke-width="0.69"><text x="0" y="0" font-size="100">geo</text></g>
<g transform="matrix(0.43851,0.00000,0.00000,0.43676,852.21,1176.93)" font-family="'Liberation Serif', 'DejaVu Serif', serif" fill="#2b2bff" stroke="#fefefe" stroke-width="1.15"><text x="0" y="0" font-size="100">−12.08 mA·cm</text></g>
<g transform="matrix(0.38021,0.00000,0.00000,0.29851,1121.10,1160.20)" font-family="'Liberation Serif', 'DejaVu Serif', serif" fill="#2b2bff" stroke="#fefefe" stroke-width="0.69"><text x="0" y="0" font-size="100">−2</text></g>
<g transform="matrix(0.33431,0.00000,0.00000,0.28904,1121.66,1192.03)" font-family="'Liberation Serif', 'DejaVu Serif', serif" fill="#2b2bff" stroke="#fefefe" stroke-width="0.69"><text x="0" y="0" font-size="100">geo</text></g>
<g transform="matrix(0.43702,0.00000,0.00000,0.42794,860.71,1405.24)" font-family="'Liberation Serif', 'DejaVu Serif', serif" fill="#ff1c1c" stroke="#fefefe" stroke-width="1.15"><text x="0" y="0" font-size="100">−15.20 mA·cm</text></g>
<g transform="matrix(0.38854,0.00000,0.00000,0.30299,1128.76,1388.00)" font-family="'Liberation Serif', 'DejaVu Serif', serif" fill="#ff1c1c" stroke="#fefefe" stroke-width="0.69"><text x="0" y="0" font-size="100">−2</text></g>
<g transform="matrix(0.33358,0.00000,0.00000,0.30137,1129.37,1420.97)" font-family="'Liberation Serif', 'DejaVu Serif', serif" fill="#ff1c1c" stroke="#fefefe" stroke-width="0.69"><text x="0" y="0" font-size="100">geo</text></g>
<g transform="matrix(0.64190,0.00000,0.00000,0.62273,1453.46,1370.10)" font-family="'Liberation Serif', 'DejaVu Serif', serif" fill="#111" stroke="#fefefe" stroke-width="1.15"><text x="0" y="0" font-size="100">Ar In<tspan font-size="64" dy="25">H</tspan><tspan font-size="48" dy="19">2</tspan><tspan font-size="64" dy="-19">O</tspan></text></g>
<g transform="matrix(0.64171,0.00000,0.00000,0.61196,1453.46,1474.29)" font-family="'Liberation Serif', 'DejaVu Serif', serif" fill="#111" stroke="#fefefe" stroke-width="1.15"><text x="0" y="0" font-size="100">Ar In<tspan font-size="64" dy="25">KOH</tspan></text></g>
<g transform="matrix(0.61033,0.00000,0.00000,0.60857,1454.09,1569.79)" font-family="'Liberation Serif', 'DejaVu Serif', serif" fill="#111" stroke="#fefefe" stroke-width="1.15"><text x="0" y="0" font-size="100">Ar In Foil</text></g>
<g transform="matrix(0.63342,0.00000,0.00000,0.62273,1916.57,1370.20)" font-family="'Liberation Serif', 'DejaVu Serif', serif" fill="#111" stroke="#fefefe" stroke-width="1.15"><text x="0" y="0" font-size="100">CO<tspan font-size="64" dy="25">2</tspan><tspan dy="-25"> In</tspan><tspan font-size="64" dy="25">H</tspan><tspan font-size="48" dy="19">2</tspan><tspan font-size="64" dy="-19">O</tspan></text></g>
<g transform="matrix(0.63422,0.00000,0.00000,0.63696,1916.56,1473.94)" font-family="'Liberation Serif', 'DejaVu Serif', serif" fill="#111" stroke="#fefefe" stroke-width="1.15"><text x="0" y="0" font-size="100">CO<tspan font-size="64" dy="25">2</tspan><tspan dy="-25"> In</tspan><tspan font-size="64" dy="25">KOH</tspan></text></g>
<g transform="matrix(0.60806,0.00000,0.00000,0.60638,1922.37,1568.84)" font-family="'Liberation Serif', 'DejaVu Serif', serif" fill="#111" stroke="#fefefe" stroke-width="1.15"><text x="0" y="0" font-size="100">CO<tspan font-size="64" dy="25">2</tspan><tspan dy="-25"> In Foil</tspan></text></g>
<g transform="matrix(0.50294,0.00000,0.00000,0.54493,1675.27,534.60)" font-family="'Liberation Sans', 'DejaVu Sans', sans-serif" fill="#111" stroke="#fefefe" stroke-width="0.00"><text x="0" y="0" font-size="100">In</text></g>
<g transform="matrix(0.34364,0.00000,0.00000,0.35106,1728.94,512.73)" font-family="'Liberation Sans', 'DejaVu Sans', sans-serif" fill="#111" stroke="#fefefe" stroke-width="0.00"><text x="0" y="0" font-size="100">(0)</text></g>
<g transform="matrix(0.47353,0.00000,0.00000,0.54493,1840.34,534.60)" font-family="'Liberation Sans', 'DejaVu Sans', sans-serif" fill="#111" stroke="#fefefe" stroke-width="0.00"><text x="0" y="0" font-size="100">In</text></g>
<g transform="matrix(0.32190,0.00000,0.00000,0.37324,1878.39,513.13)" font-family="'Liberation Sans', 'DejaVu Sans', sans-serif" fill="#111" stroke="#fefefe" stroke-width="0.00"><text x="0" y="0" font-size="100">+3</text></g>
<g transform="matrix(0.48529,0.00000,0.00000,0.51594,1540.13,1121.30)" font-family="'Liberation Sans', 'DejaVu Sans', sans-serif" fill="#111" stroke="#fefefe" stroke-width="0.00"><text x="0" y="0" font-size="100">In</text></g>
<g transform="matrix(0.32000,0.00000,0.00000,0.33380,1581.10,1099.17)" font-family="'Liberation Sans', 'DejaVu Sans', sans-serif" fill="#111" stroke="#fefefe" stroke-width="0.00"><text x="0" y="0" font-size="100">+3</text></g>
<g transform="matrix(0.48382,0.00000,0.00000,0.51594,1687.15,1121.30)" font-family="'Liberation Sans', 'DejaVu Sans', sans-serif" fill="#111" stroke="#fefefe" stroke-width="0.00"><text x="0" y="0" font-size="100">In</text></g>
<g transform="matrix(0.33545,0.00000,0.00000,0.34255,1740.19,1100.81)" font-family="'Liberation Sans', 'DejaVu Sans', sans-serif" fill="#111" stroke="#fefefe" stroke-width="0.00"><text x="0" y="0" font-size="100">(0)</text></g>
</svg></body></html>
